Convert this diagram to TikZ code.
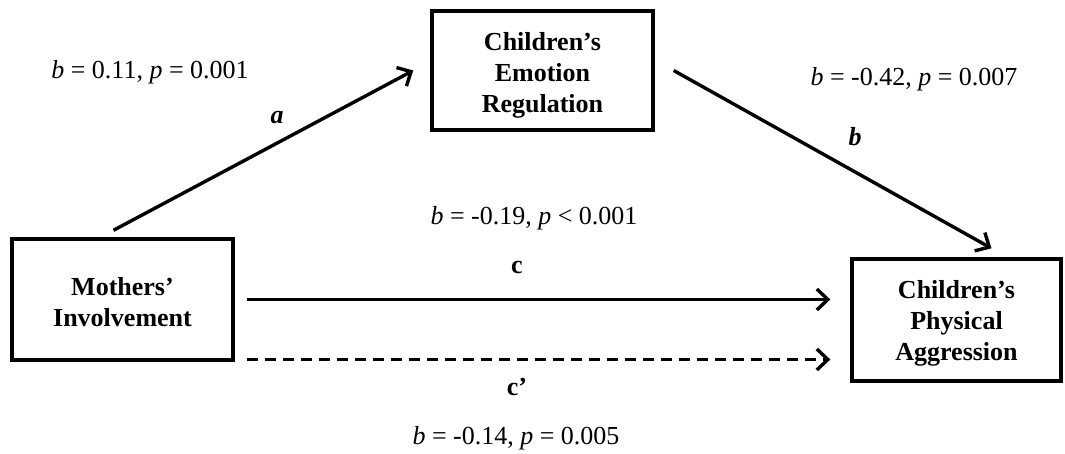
\documentclass[tikz,border=0pt]{standalone}
\usepackage{fontspec}
\setmainfont{Liberation Serif}
\usetikzlibrary{arrows.meta,calc}
\tikzset{
  var/.style={draw=black, line width=3.4pt, inner sep=0pt},
  vartext/.style={align=center, font=\fontsize{26}{31}\selectfont\bfseries, inner sep=0pt},
  lab/.style={font=\fontsize{26}{31}\selectfont, inner sep=0pt},
  pathlab/.style={font=\fontsize{26}{31}\selectfont\bfseries, inner sep=0pt},
  arr/.style={line width=3.4pt, -{Straight Barb[length=11pt,width=21pt,line width=3.4pt]}},
  dasharr/.style={arr, dash pattern=on 11pt off 7pt}
}
\begin{document}
\begin{tikzpicture}[x=1pt,y=-1pt]
\useasboundingbox (0,0) rectangle (1065,454);
\node[var, minimum width=221pt, minimum height=119pt] (ER) at (542.5,70.5) {};
\node[var, minimum width=221pt, minimum height=121pt] (M) at (122.5,299.5) {};
\node[var, minimum width=209pt, minimum height=122pt] (PA) at (956.5,320) {};
\node[vartext] (ERt) at ($(ER.center)+(0,5)$) {Children’s\\Emotion\\Regulation};
\node[vartext] (Mt) at ($(M.center)+(0,3)$) {Mothers’\\Involvement};
\node[vartext] (PAt) at ($(PA.center)+(0,3)$) {Children’s\\Physical\\Aggression};
\coordinate (aS) at ($(M.north)+(-9,-7)$);
\coordinate (aE) at ($(ER.west)+(-17,0)$);
\coordinate (bS) at ($(ER.east)+(19,0)$);
\coordinate (bE) at ($(PA.north)+(35,-9)$);
\coordinate (cS) at ($(M.east)+(12,0)$);
\coordinate (cE) at (cS -| PA.west);
\coordinate (dS) at ($(M.east)+(12,60)$);
\coordinate (dE) at (dS -| PA.west);
\draw[arr] (aS) -- (aE);
\draw[arr] (bS) -- (bE);
\draw[arr, shorten >=20pt] (cS) -- (cE);
\draw[dasharr, shorten >=20pt] (dS) -- (dE);
\node[lab] (la) at (150,72) {\textit{b} = 0.11, \textit{p} = 0.001};
\node[pathlab] (a) at (277,118) {\textit{a}};
\node[lab] (lb) at (914,79) {\textit{b} = -0.42, \textit{p} = 0.007};
\node[pathlab] (b) at (855,137) {\textit{b}};
\node[lab] (lc) at (534,218) {\textit{b} = -0.19, \textit{p} < 0.001};
\node[pathlab] (c) at (517,267) {c};
\node[pathlab] (cp) at (517,387) {c’};
\node[lab] (lcp) at (516,438) {\textit{b} = -0.14, \textit{p} = 0.005};
\end{tikzpicture}
\end{document}
